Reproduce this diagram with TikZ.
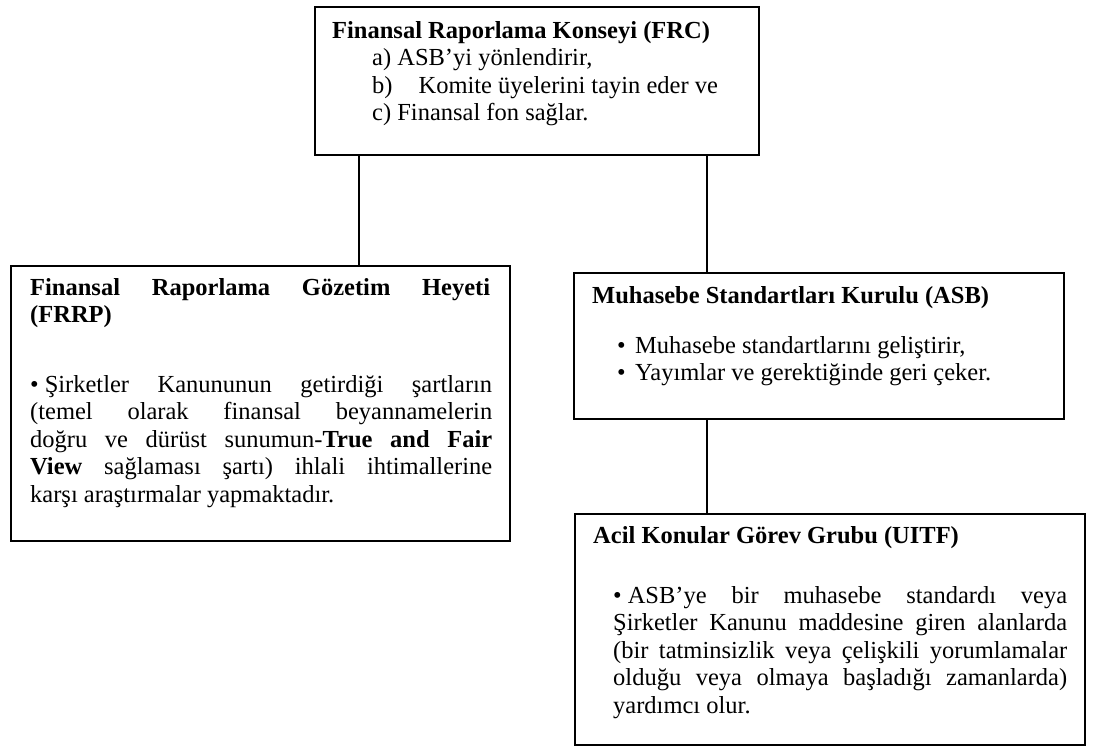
\documentclass[tikz,border=0pt]{standalone}
\usepackage{fontspec}
\setmainfont{Liberation Serif}
\newcommand{\ns}{\spaceskip=0pt\xspaceskip=0pt\relax}
\newcommand{\jl}[2]{\makebox[#1][s]{#2}}
\newcommand{\bul}{\mbox{•}\hspace{6pt}}
\begin{document}
\begin{tikzpicture}[x=1pt,y=-1pt,
  box/.style={draw,line width=1.6pt,rectangle,inner sep=0pt,anchor=north west},
  txt/.style={anchor=base west,inner sep=0pt,align=left,font=\fontsize{24.5}{27.6}\selectfont},
  conn/.style={line width=1.6pt}]
\useasboundingbox (0,0) rectangle (1097,747);
% boxes
\node[box,minimum width=444pt,minimum height=148pt] (frc) at (314,6) {};
\node[box,minimum width=499pt,minimum height=275pt] (frrp) at (10,265) {};
\node[box,minimum width=490pt,minimum height=146pt] (asb) at (573,272) {};
\node[box,minimum width=510pt,minimum height=231pt] (uitf) at (574,513) {};
% connectors
\coordinate (cl) at (359,0);
\coordinate (cr) at (707,0);
\draw[conn] (frc.south -| cl) -- (frrp.north -| cl);
\draw[conn] (frc.south -| cr) -- (asb.north -| cr);
\draw[conn] (asb.south -| cr) -- (uitf.north -| cr);
% texts
\node[txt,text width=420pt] (frct) at (332,38) {\ns\textbf{Finansal Raporlama Konseyi (FRC)}\\
\hspace*{40pt}a) ASB’yi yönlendirir,\\
\hspace*{40pt}b)\hspace{26pt}Komite üyelerini tayin eder ve\\
\hspace*{40pt}c) Finansal fon sağlar.};
\node[txt,text width=460pt] (frrpt) at (30,295) {\ns\textbf{\jl{460pt}{Finansal Raporlama Gözetim Heyeti}}\\
\textbf{(FRRP)}};
\node[txt,text width=462pt] (frrpb) at (30,392) {\ns\jl{462pt}{\bul Şirketler Kanununun getirdiği şartların}\\
\jl{462pt}{(temel olarak finansal beyannamelerin}\\
\jl{462pt}{doğru ve dürüst sunumun-\textbf{True and Fair}}\\
\jl{462pt}{\textbf{View} sağlaması şartı) ihlali ihtimallerine}\\
karşı araştırmalar yapmaktadır.};
\node[txt,text width=460pt] (asbt) at (592,303) {\ns\textbf{Muhasebe Standartları Kurulu (ASB)}};
\node[txt,text width=440pt] (asbb) at (617,353) {\ns\makebox[18pt][l]{•}Muhasebe standartlarını geliştirir,\\
\makebox[18pt][l]{•}Yayımlar ve gerektiğinde geri çeker.};
\node[txt,text width=470pt] (uitft) at (593,543) {\ns\textbf{Acil Konular Görev Grubu (UITF)}};
\node[txt,text width=454pt] (uitfb) at (613,603) {\ns\jl{454pt}{\bul ASB’ye bir muhasebe standardı veya}\\
\jl{454pt}{Şirketler Kanunu maddesine giren alanlarda}\\
\jl{454pt}{(bir tatminsizlik veya çelişkili yorumlamalar}\\
\jl{454pt}{olduğu veya olmaya başladığı zamanlarda)}\\
yardımcı olur.};
\end{tikzpicture}
\end{document}
